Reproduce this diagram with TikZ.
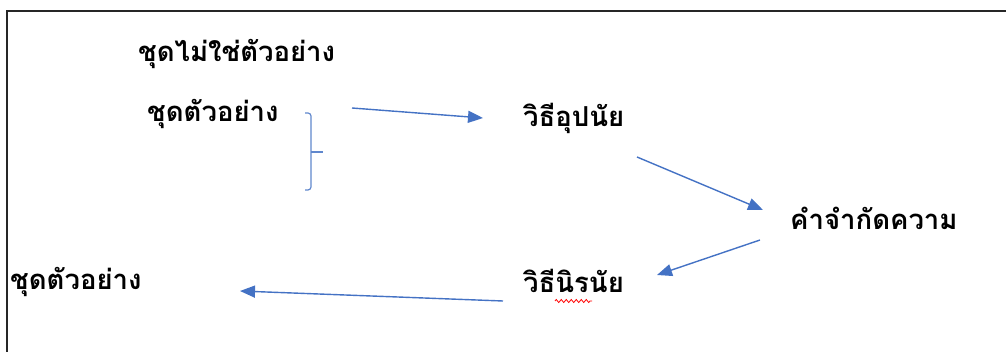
\documentclass[tikz,border=0pt]{standalone}
\usepackage{fontspec}
\newfontfamily\thaifont[Script=Thai]{Loma}
\usetikzlibrary{arrows.meta,decorations.pathmorphing}
\definecolor{arrowblue}{HTML}{4472C4}
\begin{document}
\begin{tikzpicture}[x=1pt,y=-1pt,
  lbl/.style={inner sep=0pt,anchor=base west,font=\thaifont\bfseries\fontsize{27.5}{32}\selectfont},
  conn/.style={draw=arrowblue,line width=1.4pt,-{Triangle[length=15pt,width=12pt]}}]
\useasboundingbox (0,0) rectangle (1006,352);
\draw[line width=1.8pt,black!85] (7,352) -- (7,11) -- (1006,11);
\node[lbl] (nonex) at (138,62) {ชุดไม่ใช่ตัวอย่าง};
\node[lbl] (ex1) at (147,122) {ชุดตัวอย่าง};
\node[lbl] (ind) at (523,127) {วิธีอุปนัย};
\node[lbl] (def) at (790,230) {คำจำกัดความ};
\node[lbl] (ded) at (523,293) {วิธีนิรนัย};
\node[lbl] (ex2) at (10,290) {ชุดตัวอย่าง};
\draw[arrowblue!85,line width=1.2pt,rounded corners=3pt] (305,113) -- (311,113) -- (311,190) -- (305,190);
\draw[arrowblue!85,line width=1.2pt] (311,152) -- (323,152);
\coordinate (a1s) at (352,108);
\coordinate (a1e) at (483,118);
\coordinate (a2s) at (637,157);
\coordinate (a2e) at (763,210);
\coordinate (a3s) at (760,240);
\coordinate (a3e) at (657,275);
\coordinate (a4s) at (503,301);
\coordinate (a4e) at (240,291);
\draw[conn] (a1s) -- (a1e);
\draw[conn] (a2s) -- (a2e);
\draw[conn] (a3s) -- (a3e);
\draw[conn] (a4s) -- (a4e);
\draw[red,line width=0.8pt,decorate,decoration={zigzag,segment length=5pt,amplitude=1.5pt}] (555,301) -- (592,301);
\end{tikzpicture}
\end{document}
